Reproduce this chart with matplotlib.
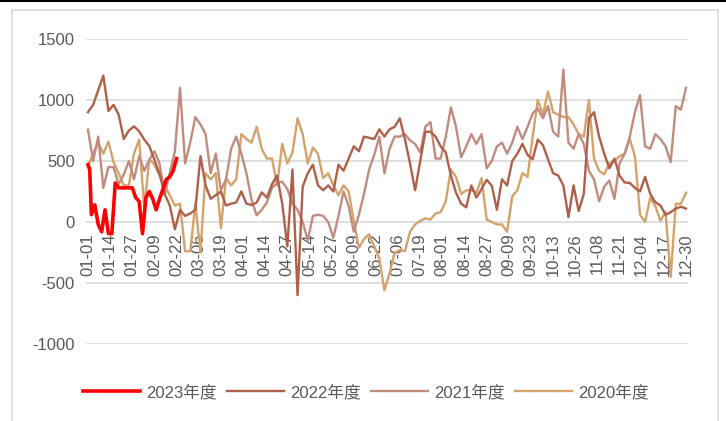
# coding: utf-8
import numpy as np
import matplotlib
matplotlib.use('Agg')
import matplotlib.pyplot as plt
from matplotlib.patches import Rectangle
from matplotlib.lines import Line2D

plt.rcParams['font.family'] = ['Liberation Sans', 'Noto Sans CJK SC']
plt.rcParams['axes.unicode_minus'] = False

# category axis: trading-day index, one label every 13 days
xtick_labels = ['01-01', '01-14', '01-27', '02-09', '02-22', '03-06', '03-19',
                '04-01', '04-14', '04-27', '05-14', '05-27', '06-09', '06-22',
                '07-06', '07-19', '08-01', '08-14', '08-27', '09-09', '09-23',
                '10-13', '10-26', '11-08', '11-21', '12-04', '12-17', '12-30']
xtick_pos = np.arange(0, 352, 13)

# series read every 3 categories
x_year = np.arange(0, 352, 3)

y_2022 = [900, 960, 1080, 1200, 910, 960, 880, 680, 750, 784,
          743, 676, 622, 510, 392, 230, 135, -60, 100, 50,
          70, 100, 540, 300, 190, 220, 250, 135, 150, 160,
          250, 150, 140, 160, 243, 200, 310, 380, 150, -200,
          430, -600, 290, 400, 470, 300, 260, 300, 250, 470,
          420, 520, 620, 580, 700, 690, 680, 760, 700, 760,
          780, 850, 680, 480, 260, 500, 740, 740, 700, 620,
          570, 380, 240, 150, 120, 300, 200, 270, 346, 297,
          100, 350, 300, 500, 560, 640, 550, 514, 676, 630,
          514, 400, 380, 300, 40, 300, 90, 230, 850, 900,
          700, 560, 440, 520, 380, 324, 320, 280, 250, 370,
          230, 162, 135, 60, 80, 110, 125, 110]

y_2021 = [757, 500, 700, 280, 450, 450, 310, 390, 500, 350,
          540, 420, 510, 580, 480, 220, 400, 580, 1100, 480,
          650, 860, 800, 720, 400, 560, 260, 350, 600, 700,
          560, 400, 180, 55, 100, 160, 280, 320, 330, 270,
          150, 100, 0, -150, 50, 60, 50, 0, -130, 50,
          250, 130, -80, 60, 230, 430, 550, 700, 400, 600,
          700, 700, 720, 670, 640, 570, 780, 820, 520, 520,
          700, 940, 780, 530, 620, 720, 640, 720, 440, 500,
          620, 650, 560, 650, 780, 680, 780, 890, 930, 850,
          950, 740, 700, 1250, 650, 600, 720, 640, 420, 350,
          170, 290, 340, 190, 480, 560, 700, 900, 1040, 620,
          600, 720, 680, 620, 490, 950, 920, 1100]

y_2020 = [460, 560, 650, 560, 660, 490, 400, 300, 300, 560,
          676, 120, 514, 470, 380, 300, 220, 135, 150, -240,
          -240, 150, -250, 400, 350, 400, -50, 360, 300, 350,
          720, 680, 650, 780, 600, 520, 520, 300, 640, 480,
          570, 850, 720, 480, 610, 560, 360, 400, 300, 220,
          300, 250, 10, -210, -140, -100, -200, -300, -560, -420,
          -250, -230, -240, -80, -20, 10, 30, 20, 70, 80,
          170, 430, 370, 230, 260, 260, 240, 360, 20, 0,
          -20, -20, -80, 210, 260, 400, 370, 700, 1000, 880,
          1070, 900, 880, 860, 860, 800, 720, 700, 1000, 520,
          420, 390, 480, 500, 540, 560, 680, 540, 60, 0,
          200, 130, 10, 80, -450, 150, 150, 240]

x_2023 = [0, 1, 2, 4, 6, 8, 10, 12, 14, 16, 18, 20, 22, 24, 26, 28, 30,
          32, 34, 36, 38, 40, 42, 44, 46, 48, 50, 52]
y_2023 = [470, 430, 60, 140, -20, -80, 100, -95, -95, 320, 280, 280, 280,
          280, 280, 200, 170, -95, 200, 250, 190, 100, 190, 270, 350, 370,
          420, 520]

fig = plt.figure(figsize=(7.26, 4.21), dpi=100)

# outer frame and top rule
fig.patches.append(Rectangle((12 / 726, -0.01), 706 / 726, 1 - 10 / 421 + 0.01,
                             transform=fig.transFigure, fill=False,
                             edgecolor='#D9D9D9', lw=1.2))
fig.add_artist(Line2D([0, 1], [1 - 1 / 421, 1 - 1 / 421], color='black', lw=1.5))

ax = fig.add_axes([86 / 726, 1 - 344 / 421, 602 / 726, 305 / 421])

ax.plot(x_year, y_2020, color='#D4A26A', lw=1.7, label='2020年度', zorder=3)
ax.plot(x_year, y_2021, color='#C18C80', lw=1.7, label='2021年度', zorder=3)
ax.plot(x_year, y_2022, color='#B0604A', lw=1.7, label='2022年度', zorder=3)
ax.plot(x_2023, y_2023, color='#FF0000', lw=2.6, label='2023年度', zorder=4)

ax.set_xlim(-1.17, 352.17)
ax.set_ylim(-1000, 1500)
ax.set_yticks([-1000, -500, 0, 500, 1000, 1500])
ax.set_xticks(xtick_pos)
ax.set_xticklabels(xtick_labels)
ax.grid(axis='y', color='#D9D9D9', lw=1.2)
ax.set_axisbelow(True)

for s in ['top', 'right', 'left']:
    ax.spines[s].set_visible(False)
ax.spines['bottom'].set_position(('data', 0))
ax.spines['bottom'].set_visible(False)

ax.tick_params(axis='y', length=0, pad=8, labelsize=12, labelcolor='#595959')
ax.tick_params(axis='x', length=0, pad=8, labelsize=12, labelcolor='#595959',
               labelrotation=90)

handles, labels = ax.get_legend_handles_labels()
order = [3, 2, 1, 0]
leg = fig.legend([handles[i] for i in order], [labels[i] for i in order],
                 loc='center', bbox_to_anchor=(366 / 726, 1 - 392 / 421),
                 ncol=4, frameon=False, fontsize=12, handlelength=3.4,
                 handletextpad=0.4, columnspacing=0.6)
for t in leg.get_texts():
    t.set_color('#595959')

plt.savefig('out.png')
plt.close()
